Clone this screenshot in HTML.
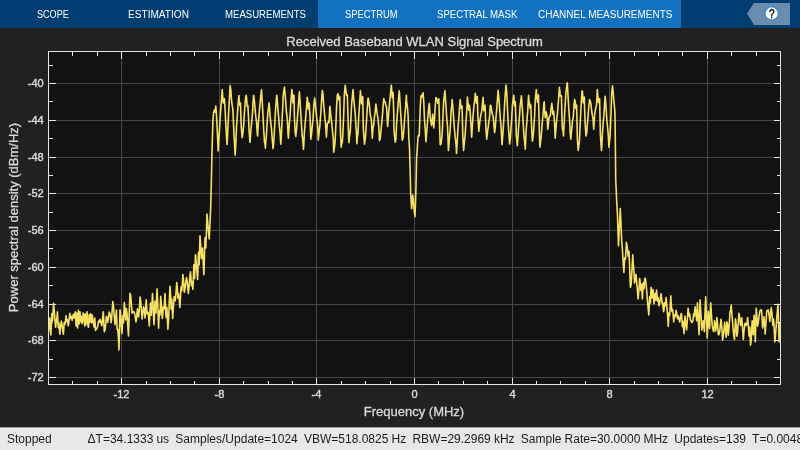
<!DOCTYPE html>
<html><head><meta charset="utf-8"><title>Spectrum Analyzer</title>
<style>
html,body{margin:0;padding:0;}
body{width:800px;height:450px;overflow:hidden;background:#212121;font-family:"Liberation Sans",Arial,sans-serif;position:relative;}
#hdr{will-change:transform;position:absolute;left:0;top:0;width:800px;height:28px;background:#003d70;}
#hdr .act{position:absolute;left:318px;top:0;width:363px;height:28px;background:#1271c0;}
#hdr .tab{position:absolute;top:0;height:28px;line-height:30.5px;color:#fff;font-size:10px;white-space:nowrap;transform-origin:0 50%;}
#help{position:absolute;left:747px;top:3px;width:43px;height:22px;}
#status{will-change:transform;position:absolute;left:0;top:427px;width:800px;height:23px;background:#e8e8e8;border-top:1px solid #9c9c9c;box-shadow:inset 0 1px 0 #f1f1f1;box-sizing:border-box;color:#1a1a1a;font-size:12px;line-height:23px;white-space:nowrap;overflow:hidden;}
#status span{position:absolute;top:0;}
svg text{font-family:"Liberation Sans",Arial,sans-serif;}
#plot text{stroke:#d9d9d9;stroke-width:0.3px;}
#plot .tl text{stroke-width:0.42px;}
</style></head><body>
<div id="hdr"><div class="act"></div>
<span class="tab" id="t1" style="left:37.0px;transform:scaleX(0.9069)">SCOPE</span>
<span class="tab" id="t2" style="left:128.2px;transform:scaleX(1.0103)">ESTIMATION</span>
<span class="tab" id="t3" style="left:224.5px;transform:scaleX(0.9591)">MEASUREMENTS</span>
<span class="tab" id="t4" style="left:344.5px;transform:scaleX(0.9356)">SPECTRUM</span>
<span class="tab" id="t5" style="left:437.3px;transform:scaleX(0.9611)">SPECTRAL MASK</span>
<span class="tab" id="t6" style="left:538.1px;transform:scaleX(0.9988)">CHANNEL MEASUREMENTS</span>
<svg id="help" viewBox="0 0 43 22"><polygon points="0,10.5 7,0 43,0 43,22 7,22" fill="#6a8cae"/><circle cx="24.6" cy="10.45" r="6.7" fill="#fff" stroke="#2a84dc" stroke-width="1.2"/><text transform="translate(24.8,15.2) scale(0.78,1)" text-anchor="middle" font-size="13" fill="#1a1a1a" stroke="#1a1a1a" stroke-width="0.5">?</text></svg>
</div>
<svg id="plot" width="800" height="399" viewBox="0 28 800 399" style="position:absolute;left:0;top:28px;will-change:transform">
<rect x="48.5" y="51.5" width="732.0" height="333.0" fill="#121212"/>
<g stroke="#474747" stroke-width="1" shape-rendering="crispEdges"><line x1="48.5" x2="780.5" y1="377.5" y2="377.5"/><line x1="48.5" x2="780.5" y1="340.5" y2="340.5"/><line x1="48.5" x2="780.5" y1="304.5" y2="304.5"/><line x1="48.5" x2="780.5" y1="267.5" y2="267.5"/><line x1="48.5" x2="780.5" y1="230.5" y2="230.5"/><line x1="48.5" x2="780.5" y1="193.5" y2="193.5"/><line x1="48.5" x2="780.5" y1="157.5" y2="157.5"/><line x1="48.5" x2="780.5" y1="120.5" y2="120.5"/><line x1="48.5" x2="780.5" y1="83.5" y2="83.5"/><line y1="51.5" y2="384.5" x1="121.5" x2="121.5"/><line y1="51.5" y2="384.5" x1="219.5" x2="219.5"/><line y1="51.5" y2="384.5" x1="316.5" x2="316.5"/><line y1="51.5" y2="384.5" x1="414.5" x2="414.5"/><line y1="51.5" y2="384.5" x1="512.5" x2="512.5"/><line y1="51.5" y2="384.5" x1="609.5" x2="609.5"/><line y1="51.5" y2="384.5" x1="707.5" x2="707.5"/></g>
<g stroke="#e6e6e6" stroke-width="1" shape-rendering="crispEdges"><line x1="48.5" x2="55.5" y1="377.5" y2="377.5"/><line x1="773.5" x2="780.5" y1="377.5" y2="377.5"/><line x1="48.5" x2="55.5" y1="340.5" y2="340.5"/><line x1="773.5" x2="780.5" y1="340.5" y2="340.5"/><line x1="48.5" x2="55.5" y1="304.5" y2="304.5"/><line x1="773.5" x2="780.5" y1="304.5" y2="304.5"/><line x1="48.5" x2="55.5" y1="267.5" y2="267.5"/><line x1="773.5" x2="780.5" y1="267.5" y2="267.5"/><line x1="48.5" x2="55.5" y1="230.5" y2="230.5"/><line x1="773.5" x2="780.5" y1="230.5" y2="230.5"/><line x1="48.5" x2="55.5" y1="193.5" y2="193.5"/><line x1="773.5" x2="780.5" y1="193.5" y2="193.5"/><line x1="48.5" x2="55.5" y1="157.5" y2="157.5"/><line x1="773.5" x2="780.5" y1="157.5" y2="157.5"/><line x1="48.5" x2="55.5" y1="120.5" y2="120.5"/><line x1="773.5" x2="780.5" y1="120.5" y2="120.5"/><line x1="48.5" x2="55.5" y1="83.5" y2="83.5"/><line x1="773.5" x2="780.5" y1="83.5" y2="83.5"/><line x1="48.5" x2="52.5" y1="359.5" y2="359.5"/><line x1="776.5" x2="780.5" y1="359.5" y2="359.5"/><line x1="48.5" x2="52.5" y1="322.5" y2="322.5"/><line x1="776.5" x2="780.5" y1="322.5" y2="322.5"/><line x1="48.5" x2="52.5" y1="285.5" y2="285.5"/><line x1="776.5" x2="780.5" y1="285.5" y2="285.5"/><line x1="48.5" x2="52.5" y1="248.5" y2="248.5"/><line x1="776.5" x2="780.5" y1="248.5" y2="248.5"/><line x1="48.5" x2="52.5" y1="212.5" y2="212.5"/><line x1="776.5" x2="780.5" y1="212.5" y2="212.5"/><line x1="48.5" x2="52.5" y1="175.5" y2="175.5"/><line x1="776.5" x2="780.5" y1="175.5" y2="175.5"/><line x1="48.5" x2="52.5" y1="138.5" y2="138.5"/><line x1="776.5" x2="780.5" y1="138.5" y2="138.5"/><line x1="48.5" x2="52.5" y1="101.5" y2="101.5"/><line x1="776.5" x2="780.5" y1="101.5" y2="101.5"/><line x1="48.5" x2="52.5" y1="65.5" y2="65.5"/><line x1="776.5" x2="780.5" y1="65.5" y2="65.5"/><line y1="384.5" y2="377.5" x1="121.5" x2="121.5"/><line y1="51.5" y2="58.5" x1="121.5" x2="121.5"/><line y1="384.5" y2="377.5" x1="219.5" x2="219.5"/><line y1="51.5" y2="58.5" x1="219.5" x2="219.5"/><line y1="384.5" y2="377.5" x1="316.5" x2="316.5"/><line y1="51.5" y2="58.5" x1="316.5" x2="316.5"/><line y1="384.5" y2="377.5" x1="414.5" x2="414.5"/><line y1="51.5" y2="58.5" x1="414.5" x2="414.5"/><line y1="384.5" y2="377.5" x1="512.5" x2="512.5"/><line y1="51.5" y2="58.5" x1="512.5" x2="512.5"/><line y1="384.5" y2="377.5" x1="609.5" x2="609.5"/><line y1="51.5" y2="58.5" x1="609.5" x2="609.5"/><line y1="384.5" y2="377.5" x1="707.5" x2="707.5"/><line y1="51.5" y2="58.5" x1="707.5" x2="707.5"/><line y1="384.5" y2="380.5" x1="72.5" x2="72.5"/><line y1="51.5" y2="55.5" x1="72.5" x2="72.5"/><line y1="384.5" y2="380.5" x1="97.5" x2="97.5"/><line y1="51.5" y2="55.5" x1="97.5" x2="97.5"/><line y1="384.5" y2="380.5" x1="146.5" x2="146.5"/><line y1="51.5" y2="55.5" x1="146.5" x2="146.5"/><line y1="384.5" y2="380.5" x1="170.5" x2="170.5"/><line y1="51.5" y2="55.5" x1="170.5" x2="170.5"/><line y1="384.5" y2="380.5" x1="194.5" x2="194.5"/><line y1="51.5" y2="55.5" x1="194.5" x2="194.5"/><line y1="384.5" y2="380.5" x1="243.5" x2="243.5"/><line y1="51.5" y2="55.5" x1="243.5" x2="243.5"/><line y1="384.5" y2="380.5" x1="268.5" x2="268.5"/><line y1="51.5" y2="55.5" x1="268.5" x2="268.5"/><line y1="384.5" y2="380.5" x1="292.5" x2="292.5"/><line y1="51.5" y2="55.5" x1="292.5" x2="292.5"/><line y1="384.5" y2="380.5" x1="341.5" x2="341.5"/><line y1="51.5" y2="55.5" x1="341.5" x2="341.5"/><line y1="384.5" y2="380.5" x1="365.5" x2="365.5"/><line y1="51.5" y2="55.5" x1="365.5" x2="365.5"/><line y1="384.5" y2="380.5" x1="390.5" x2="390.5"/><line y1="51.5" y2="55.5" x1="390.5" x2="390.5"/><line y1="384.5" y2="380.5" x1="438.5" x2="438.5"/><line y1="51.5" y2="55.5" x1="438.5" x2="438.5"/><line y1="384.5" y2="380.5" x1="463.5" x2="463.5"/><line y1="51.5" y2="55.5" x1="463.5" x2="463.5"/><line y1="384.5" y2="380.5" x1="487.5" x2="487.5"/><line y1="51.5" y2="55.5" x1="487.5" x2="487.5"/><line y1="384.5" y2="380.5" x1="536.5" x2="536.5"/><line y1="51.5" y2="55.5" x1="536.5" x2="536.5"/><line y1="384.5" y2="380.5" x1="560.5" x2="560.5"/><line y1="51.5" y2="55.5" x1="560.5" x2="560.5"/><line y1="384.5" y2="380.5" x1="585.5" x2="585.5"/><line y1="51.5" y2="55.5" x1="585.5" x2="585.5"/><line y1="384.5" y2="380.5" x1="634.5" x2="634.5"/><line y1="51.5" y2="55.5" x1="634.5" x2="634.5"/><line y1="384.5" y2="380.5" x1="658.5" x2="658.5"/><line y1="51.5" y2="55.5" x1="658.5" x2="658.5"/><line y1="384.5" y2="380.5" x1="682.5" x2="682.5"/><line y1="51.5" y2="55.5" x1="682.5" x2="682.5"/><line y1="384.5" y2="380.5" x1="731.5" x2="731.5"/><line y1="51.5" y2="55.5" x1="731.5" x2="731.5"/><line y1="384.5" y2="380.5" x1="756.5" x2="756.5"/><line y1="51.5" y2="55.5" x1="756.5" x2="756.5"/></g>
<clipPath id="cp"><rect x="48" y="52" width="732" height="332"/></clipPath>
<polyline clip-path="url(#cp)" fill="none" stroke="#f7e163" stroke-width="1.6" stroke-linejoin="round" stroke-linecap="round" points="48.0,338.5 48.5,331.4 49.2,324.2 49.7,318.0 50.6,330.9 50.9,335.0 51.4,323.3 51.8,313.5 52.6,320.7 53.5,303.2 54.2,310.4 54.9,318.5 55.6,327.3 56.4,321.2 57.1,316.0 57.4,311.8 57.8,319.9 58.3,327.8 58.9,322.8 59.2,326.4 59.8,334.3 60.7,326.5 61.3,321.0 62.1,324.9 62.8,330.6 63.4,334.3 64.2,322.5 64.9,324.6 65.7,319.5 66.0,315.7 66.4,318.8 66.8,321.3 67.1,321.6 67.5,319.7 67.8,322.3 68.3,325.8 69.2,319.2 69.9,313.3 70.7,318.4 71.4,316.6 72.1,320.4 72.8,316.7 73.3,314.3 74.2,318.0 74.9,313.7 75.3,311.8 75.7,319.0 76.1,326.0 76.4,320.3 76.9,313.0 77.6,328.0 78.4,310.2 79.2,324.0 80.0,311.9 80.7,321.8 81.4,316.3 82.1,323.7 82.8,320.1 83.1,313.0 83.5,313.6 83.9,315.0 84.2,320.3 84.7,326.0 85.0,320.9 85.3,314.0 85.7,325.0 86.4,319.8 87.0,311.8 87.8,325.0 88.5,327.3 89.2,314.5 90.0,322.2 90.7,313.9 91.4,319.1 91.7,323.0 92.1,318.8 92.4,315.0 92.8,319.6 93.2,321.0 93.5,323.2 94.0,327.0 94.2,324.7 94.8,318.0 95.5,330.4 96.4,329.1 97.1,327.9 97.8,326.1 98.5,321.0 99.3,322.4 100.0,319.4 100.7,321.2 101.4,324.5 101.8,325.8 102.1,323.8 102.8,316.9 103.3,311.8 104.3,331.6 105.0,329.9 105.7,324.4 106.4,316.4 107.1,317.8 107.8,322.3 108.5,317.0 109.3,312.1 110.0,314.1 110.7,318.3 111.1,322.7 111.4,321.1 112.1,311.7 112.8,301.5 113.6,307.3 114.3,316.2 115.0,324.7 115.7,317.8 116.4,310.1 117.1,329.3 117.8,329.4 118.6,340.3 118.9,349.9 119.3,337.7 120.0,309.8 120.7,315.6 121.4,326.1 122.0,333.5 122.8,315.9 123.5,322.6 124.3,302.6 125.0,310.5 125.7,320.0 126.4,308.6 127.1,314.0 127.8,326.0 128.5,335.9 129.3,311.2 130.0,293.3 130.7,295.7 131.4,304.6 132.1,313.3 132.9,311.9 133.6,311.5 134.3,312.6 135.0,315.1 135.7,319.9 136.0,321.9 136.4,319.6 137.1,311.8 137.5,308.7 137.9,313.3 138.6,317.0 139.3,309.7 140.0,297.0 140.7,300.7 141.4,309.7 142.1,319.0 142.9,312.1 143.6,306.8 144.3,310.0 145.0,318.0 145.7,307.6 146.2,299.7 147.1,314.0 147.9,313.7 148.2,312.4 148.6,316.9 149.3,326.0 150.0,312.3 150.5,303.1 150.7,307.6 151.3,315.2 152.2,299.8 152.5,293.5 152.9,299.9 153.6,317.4 154.0,324.6 154.3,319.2 155.0,301.4 155.7,308.4 156.0,312.9 156.4,301.9 157.1,288.8 157.9,308.4 158.6,328.1 159.3,311.1 160.0,314.9 160.7,296.4 161.4,305.5 162.2,318.5 162.9,313.3 163.3,306.8 163.6,307.7 164.1,309.0 165.0,293.5 165.7,310.8 166.1,317.5 166.4,313.6 166.9,307.4 167.9,329.1 168.6,319.7 169.3,301.4 170.0,286.3 170.7,296.1 171.1,309.1 171.5,303.2 171.8,299.1 172.2,308.1 172.7,318.4 173.6,304.1 174.2,296.6 175.0,300.5 175.3,300.8 175.7,296.4 176.5,285.9 176.8,282.6 177.2,287.4 177.9,297.9 178.6,293.5 179.3,299.5 179.9,307.5 180.7,292.7 181.0,287.1 181.5,290.8 181.9,290.7 182.2,286.0 182.9,274.6 183.6,281.0 184.3,292.3 185.0,288.9 185.8,281.9 186.5,277.6 187.2,281.7 187.9,289.5 188.3,293.5 188.6,291.6 189.3,283.6 190.0,275.6 190.5,271.7 190.8,275.7 191.4,285.7 192.1,281.7 192.9,289.3 193.6,272.0 193.9,264.7 194.3,273.1 194.6,278.5 195.0,266.8 195.5,254.5 195.8,257.1 196.5,267.3 197.2,274.7 197.6,279.4 197.9,270.8 198.5,252.3 199.2,264.9 200.0,235.7 200.8,247.4 201.5,258.4 202.2,252.5 202.5,248.0 202.9,255.6 203.6,270.2 203.9,274.8 204.3,261.0 205.0,237.7 205.8,248.0 206.5,230.1 207.0,214.0 207.9,224.1 208.6,232.8 209.2,239.0 210.1,221.0 210.8,204.2 211.5,175.5 211.8,160.0 212.2,144.8 212.9,121.0 213.6,112.0 214.3,110.2 214.8,112.0 215.1,110.7 215.8,106.1 216.5,115.7 217.0,125.0 217.9,143.9 218.2,151.0 218.6,142.6 219.3,133.3 220.0,120.0 220.8,109.1 221.5,99.6 222.2,89.5 222.9,98.6 223.3,103.0 223.6,101.5 224.4,98.8 225.1,109.2 225.6,120.0 226.5,136.6 227.1,144.4 227.9,127.8 228.6,113.0 229.4,99.2 230.1,85.6 230.8,89.7 231.5,100.0 232.2,105.4 232.9,110.0 233.6,126.0 234.0,135.0 234.4,141.0 235.1,155.2 235.8,144.6 236.5,126.8 237.0,120.0 237.9,107.2 238.6,98.0 238.9,95.5 239.4,102.7 240.1,105.7 240.5,103.1 240.8,113.2 241.2,125.8 241.5,129.6 242.2,137.7 242.9,133.2 243.4,127.5 243.7,124.8 244.4,113.3 245.0,104.7 245.8,96.7 246.2,95.2 246.5,97.6 247.2,106.4 247.9,105.5 248.7,120.5 249.0,130.0 249.4,134.6 250.0,142.5 250.8,131.0 251.5,124.2 252.2,116.3 252.7,110.6 252.9,104.1 253.6,95.2 254.4,100.9 255.1,109.6 255.8,116.5 256.5,121.3 257.2,132.5 257.6,135.9 257.9,129.6 258.7,118.9 259.4,110.8 260.1,103.7 260.8,95.3 261.5,89.8 262.2,101.1 263.0,115.8 263.7,130.3 264.1,134.9 264.4,141.3 265.1,144.7 265.4,148.2 265.8,141.0 266.3,137.0 267.2,121.6 267.9,112.2 268.7,106.7 269.0,102.9 269.4,106.0 270.1,115.9 270.8,123.3 271.5,128.7 272.1,136.9 273.0,148.7 273.7,143.1 273.9,139.0 274.4,130.9 275.1,117.2 275.6,109.0 276.5,97.6 276.8,95.2 277.2,99.3 278.0,110.7 278.7,117.8 279.4,126.4 280.1,133.1 280.8,144.2 281.5,132.4 282.3,114.8 283.0,102.5 283.2,95.8 283.7,91.7 284.4,87.1 285.1,94.2 285.8,103.0 286.5,112.7 287.3,119.2 288.0,133.3 288.4,138.2 288.7,132.7 289.2,125.9 290.1,114.8 290.8,103.0 291.5,93.8 291.9,89.6 292.3,94.8 293.0,102.9 293.7,95.4 294.0,95.4 294.4,116.0 295.1,131.5 295.8,136.3 296.6,128.4 296.9,124.9 297.3,119.0 298.0,110.2 298.5,103.9 299.4,91.7 300.1,102.5 300.8,113.6 301.6,126.3 302.2,135.7 303.0,142.4 303.4,149.3 303.7,146.4 304.4,132.3 305.1,124.0 305.8,115.7 306.1,112.2 306.6,106.8 307.3,97.4 308.0,103.5 308.3,108.8 308.7,109.1 309.2,103.1 310.1,117.6 310.8,139.3 311.6,133.6 312.1,127.9 313.0,119.0 313.7,107.4 314.4,100.2 314.7,98.0 315.1,102.4 315.9,109.6 316.6,117.4 317.3,123.2 317.8,127.9 318.3,140.0 318.7,136.2 319.4,129.6 319.8,126.6 320.1,121.8 320.9,112.0 321.4,103.1 322.3,90.5 323.0,94.7 323.7,104.7 324.4,112.6 325.1,120.0 325.5,123.0 325.9,129.2 326.4,137.1 327.3,123.7 328.0,122.8 328.7,121.1 329.1,122.5 329.4,114.6 329.8,106.3 330.1,108.2 330.9,116.7 331.6,121.8 332.3,129.0 333.0,136.3 333.3,138.4 333.7,152.2 334.4,147.6 335.1,141.6 335.9,124.5 336.6,106.1 337.3,95.1 338.0,93.7 338.7,99.7 339.4,96.3 339.8,96.7 340.2,116.8 340.5,134.4 340.9,140.2 341.2,147.1 341.6,143.7 342.3,142.3 342.7,137.1 343.0,129.9 343.7,114.9 344.3,95.0 345.2,85.2 345.9,90.5 346.5,95.4 347.3,94.7 348.0,117.2 348.4,131.4 348.7,137.8 349.0,142.6 349.4,137.5 350.2,131.7 350.9,119.3 351.6,105.2 352.0,99.6 352.3,97.4 353.0,89.6 353.7,98.9 354.5,106.5 355.2,114.0 355.9,125.7 356.3,130.0 356.6,137.3 356.9,143.7 357.3,137.4 358.0,133.0 358.7,117.0 359.5,105.4 360.2,94.7 360.4,90.7 360.9,96.0 361.6,103.6 362.3,100.8 362.7,96.5 363.0,111.3 363.3,128.3 363.7,133.8 364.5,144.1 365.2,139.1 365.6,134.7 365.9,130.6 366.6,119.2 367.3,107.7 368.0,98.3 368.4,98.5 368.8,101.6 369.5,106.0 370.2,114.2 370.9,117.7 371.5,121.3 372.3,138.2 373.0,128.3 373.8,123.8 374.5,116.2 374.9,114.4 375.2,111.4 375.9,104.0 376.6,109.5 377.3,114.4 378.0,118.5 378.8,126.8 379.5,140.7 380.2,138.6 380.9,131.9 381.6,124.4 382.3,117.2 383.0,107.6 383.8,98.6 384.5,101.8 385.2,101.9 385.9,105.7 386.6,107.2 387.3,120.3 387.6,126.5 388.1,120.2 388.5,114.7 389.5,103.7 390.2,97.0 390.9,89.0 391.3,85.2 391.6,88.2 392.3,97.6 393.1,92.5 393.8,114.6 394.0,130.4 394.5,135.8 395.2,142.1 395.9,139.2 396.2,132.3 396.6,124.1 397.3,114.1 397.8,107.6 398.8,96.3 399.2,90.7 399.5,93.6 400.2,105.8 400.9,116.5 401.6,127.4 402.3,140.3 403.1,137.7 403.8,130.4 404.5,120.3 405.2,111.1 405.5,109.2 405.9,102.3 406.4,95.2 406.6,101.6 407.4,107.0 408.1,115.4 408.8,138.0 409.5,148.1 410.2,172.7 410.7,193.0 411.6,208.8 412.4,199.5 412.7,195.0 413.1,198.5 413.6,205.0 414.5,212.8 415.0,216.7 415.9,190.4 416.6,158.0 417.4,146.3 418.1,136.4 418.8,134.8 419.2,136.0 419.5,127.7 420.2,108.0 420.9,96.4 421.6,95.1 422.2,97.0 423.1,92.7 423.8,103.0 424.5,119.6 425.2,129.0 425.9,141.8 426.7,132.4 427.4,123.2 428.1,114.8 428.8,106.6 429.3,103.3 430.2,116.7 430.9,121.1 431.6,125.5 432.4,118.9 432.7,114.4 433.1,119.4 433.8,128.0 434.5,118.9 435.0,110.0 435.9,97.5 436.7,98.7 437.0,101.0 437.4,100.5 437.8,103.3 438.1,101.9 438.8,98.7 439.5,122.7 440.2,144.8 440.9,144.4 441.7,138.3 442.0,135.3 442.4,129.6 443.1,112.7 443.7,100.9 444.5,94.2 445.0,90.7 445.2,95.0 446.0,106.5 446.7,117.7 447.4,124.8 447.9,135.2 448.4,150.5 448.8,146.1 449.5,137.3 450.2,129.2 451.0,114.2 451.3,108.6 451.7,106.9 452.1,99.5 453.1,110.0 453.8,120.6 454.5,129.7 455.2,137.4 456.0,143.5 456.5,153.5 457.3,140.0 458.1,126.5 458.8,119.1 459.5,108.0 460.2,99.6 461.0,108.3 461.7,107.0 462.0,106.0 462.4,119.2 462.8,135.8 463.1,141.5 463.6,150.5 464.5,140.7 464.9,137.1 465.3,132.5 466.0,120.8 466.6,113.7 467.4,97.0 468.1,104.1 468.8,110.1 469.5,105.4 470.3,114.3 470.8,122.5 471.7,137.2 472.4,125.1 473.1,115.9 473.8,107.3 474.2,103.9 474.5,102.0 475.3,93.3 476.0,98.5 476.4,103.3 476.7,99.7 477.3,96.6 477.9,116.1 478.8,131.5 479.6,124.1 480.2,118.7 481.0,114.1 481.7,111.7 482.4,104.2 483.1,97.4 483.8,110.8 484.6,109.7 485.0,105.2 485.3,111.0 486.0,129.0 486.7,139.1 487.4,133.4 487.9,128.5 488.1,128.1 488.8,121.9 489.5,118.1 490.3,105.2 491.0,105.8 491.7,111.3 492.4,114.6 493.1,116.0 493.5,119.8 493.8,123.5 494.6,132.7 495.3,127.3 496.0,117.0 496.7,109.7 497.1,103.7 497.4,100.6 498.1,90.4 498.9,98.6 499.6,108.2 500.3,118.4 501.0,126.0 501.3,131.2 501.7,138.9 502.1,144.8 502.4,139.3 503.1,131.0 503.9,117.8 504.6,104.2 505.3,93.5 506.0,85.1 506.7,91.8 507.4,107.1 508.1,122.2 508.9,133.8 509.6,143.9 510.3,138.9 510.8,131.8 511.7,118.6 512.4,105.3 513.1,100.2 513.8,95.2 514.6,106.0 515.3,101.9 516.0,122.9 516.3,135.3 516.7,138.5 517.4,145.8 518.2,133.7 518.4,129.6 518.9,123.6 519.6,114.6 520.1,106.0 521.0,99.5 521.4,95.8 521.7,100.0 522.4,109.6 523.2,122.4 523.9,134.4 524.2,138.2 524.6,141.3 525.3,149.3 526.0,132.2 526.7,123.9 527.4,114.5 527.7,111.8 528.2,101.9 528.6,95.2 528.9,100.4 529.6,103.6 529.9,108.1 530.3,107.9 530.8,105.1 531.7,128.6 532.4,141.1 533.2,135.6 533.7,129.6 534.6,115.9 535.3,99.7 536.0,92.9 536.3,89.6 536.7,95.6 537.5,102.1 538.2,98.3 538.4,94.7 538.9,112.2 539.4,133.6 539.9,147.1 540.3,143.7 541.0,138.6 541.3,134.4 541.7,130.1 542.5,119.7 543.0,114.9 543.9,103.6 544.2,101.8 544.6,109.5 545.2,117.7 546.0,111.8 546.7,114.4 547.3,118.5 547.7,129.3 548.2,125.6 548.9,118.2 549.6,116.3 550.3,115.8 550.6,113.0 551.0,109.0 551.8,103.4 552.5,109.0 552.8,114.3 553.2,111.1 553.7,111.4 554.6,123.8 555.2,138.2 556.0,127.9 556.6,120.8 557.5,112.6 558.2,103.7 558.9,95.1 559.4,87.4 560.3,95.9 561.0,95.8 561.4,95.8 561.8,109.9 562.2,125.3 562.5,129.4 563.2,131.2 563.5,135.9 563.9,127.7 564.3,120.8 564.6,113.8 565.3,103.0 565.9,92.6 566.8,85.9 567.2,82.9 567.5,85.7 568.2,98.9 568.9,110.1 569.6,120.2 570.3,133.9 570.8,139.3 571.1,135.5 571.8,128.9 572.5,120.5 573.2,117.8 573.5,113.8 573.9,106.7 574.6,99.4 575.3,101.9 575.7,108.2 576.1,108.7 576.6,105.0 577.4,139.5 578.2,150.4 578.9,145.2 579.5,140.0 580.3,120.9 581.1,105.3 581.8,94.3 582.1,90.7 582.5,91.7 583.2,102.8 583.9,100.9 584.3,97.1 584.6,108.2 585.2,124.5 586.0,135.9 586.8,132.2 587.2,125.8 587.5,123.1 588.2,114.1 588.8,106.5 589.6,99.6 590.4,101.5 591.1,105.3 591.8,112.0 592.5,116.0 592.9,117.8 593.2,120.4 593.7,129.3 594.6,115.2 595.4,109.8 596.1,107.1 596.5,105.2 596.8,99.8 597.3,89.6 598.2,100.3 598.7,102.6 598.9,100.7 599.6,98.8 600.4,135.1 601.1,145.8 601.5,150.4 601.8,146.1 602.5,132.5 603.2,122.4 603.9,115.4 604.6,103.8 605.1,96.3 605.4,98.4 606.1,108.1 606.8,119.5 607.5,126.6 608.2,133.9 608.9,147.1 609.7,139.6 610.1,136.7 610.4,128.8 611.1,111.0 611.7,93.7 612.5,85.8 613.2,92.9 613.8,100.0 614.7,109.4 615.0,114.0 615.4,148.9 615.7,180.0 616.1,187.4 616.8,203.3 617.5,215.6 618.2,237.4 618.5,245.8 618.9,237.1 619.7,221.8 620.3,208.5 621.1,227.2 621.7,240.5 622.5,251.2 623.2,263.1 623.9,272.5 624.7,258.1 625.4,259.4 626.1,248.8 626.4,242.3 626.8,244.9 627.5,249.8 628.1,256.5 629.0,251.2 629.7,269.2 630.4,287.3 631.1,284.8 631.8,273.1 632.5,259.3 632.8,254.7 633.2,263.0 634.0,272.6 634.5,283.0 635.4,278.2 636.0,274.3 636.8,283.5 637.5,291.3 638.1,299.0 639.0,289.1 639.7,278.5 640.4,284.2 640.8,290.2 641.1,287.0 641.5,284.3 641.8,289.8 642.4,299.0 643.2,282.7 644.0,288.6 644.7,278.2 645.4,278.4 646.1,284.5 646.8,292.0 647.5,301.2 648.3,310.0 648.8,315.0 649.7,296.5 650.4,303.0 651.1,287.4 651.8,289.4 652.3,297.9 653.1,289.7 654.0,303.7 654.7,298.2 655.0,293.7 655.4,297.9 655.7,300.1 656.1,293.1 656.6,290.0 657.5,301.2 658.2,297.5 659.0,305.7 659.7,302.7 660.4,298.3 661.1,293.7 661.8,299.9 662.1,303.8 662.6,302.3 663.3,309.8 663.7,311.7 664.0,309.1 664.6,302.8 665.3,305.8 666.1,297.5 666.8,305.6 667.6,315.1 668.3,326.4 669.0,313.0 669.7,315.3 670.4,303.6 670.8,295.7 671.1,301.4 671.8,311.1 672.6,309.5 673.3,316.4 673.7,322.0 674.0,318.9 674.6,314.9 675.3,316.6 676.1,310.4 676.8,313.7 677.5,318.8 678.3,316.0 679.0,318.8 679.7,322.0 680.4,318.0 681.1,313.9 681.5,313.5 681.9,319.0 682.4,326.7 683.1,321.4 684.0,333.7 684.7,322.0 685.0,316.0 685.4,320.1 686.1,326.2 686.6,330.0 686.9,326.7 687.6,315.7 688.1,308.3 688.9,316.0 689.6,313.6 690.4,320.0 691.1,321.1 691.9,322.5 692.6,321.9 693.3,317.5 693.6,314.1 694.0,315.9 694.3,316.2 694.7,311.0 695.1,306.8 695.4,309.8 696.1,314.8 696.7,320.8 697.4,302.9 698.3,320.5 699.0,334.8 699.7,310.8 700.1,299.8 700.4,306.6 701.2,318.6 701.8,330.0 702.6,325.8 703.3,320.6 704.0,327.4 704.4,331.7 704.7,321.3 705.4,303.6 705.7,296.7 706.2,309.8 706.9,327.8 707.2,337.9 707.6,329.4 708.3,311.4 709.0,321.7 709.6,328.5 710.4,308.2 710.7,302.9 711.2,310.7 711.9,321.4 712.2,325.4 712.6,328.0 713.3,330.8 713.8,331.7 714.5,320.8 715.4,326.5 715.8,330.9 716.2,326.4 716.9,317.6 717.6,324.6 718.3,334.6 719.0,334.5 719.7,331.6 720.5,323.8 721.1,319.2 721.9,328.3 722.6,340.2 723.3,335.3 724.0,329.7 724.7,322.3 725.5,331.1 726.2,337.3 726.9,321.8 727.6,324.7 728.3,335.1 729.0,328.4 729.7,317.0 730.1,311.4 730.5,312.1 731.2,305.0 731.9,314.3 732.6,322.0 732.9,327.0 733.3,331.5 734.0,337.0 734.5,339.4 734.8,333.1 735.5,318.7 736.2,325.4 736.9,336.3 737.6,331.8 738.3,322.2 739.0,313.4 739.8,318.6 740.5,325.5 741.2,323.0 741.8,317.7 742.6,329.3 743.3,339.4 744.0,331.1 744.8,323.8 745.5,323.2 746.2,325.5 746.9,323.9 747.6,317.6 748.3,325.5 749.0,335.9 749.8,327.0 750.5,345.1 751.2,340.1 751.9,325.7 752.2,320.8 752.6,326.0 753.3,334.8 754.1,315.4 754.8,326.0 755.3,341.8 756.2,308.3 756.9,317.1 757.6,326.1 758.3,322.2 759.1,316.0 759.8,311.4 760.5,310.1 761.2,310.4 761.5,309.9 761.9,315.9 762.6,327.9 763.3,325.1 764.0,316.9 764.8,326.0 765.1,334.0 765.5,328.8 766.2,319.5 766.6,313.0 766.9,310.9 767.6,310.2 768.2,309.9 769.1,314.8 769.8,321.3 770.5,314.1 771.2,307.6 771.9,312.3 772.6,323.1 772.9,325.4 773.4,318.8 774.1,326.2 774.8,341.9 775.5,334.6 776.2,326.4 776.9,316.3 777.6,308.8 778.0,304.4 778.4,316.2 779.1,342.0 779.8,323.8 780.5,327.6 780.8,330.0"/>
<rect x="48.5" y="51.5" width="732.0" height="333.0" fill="none" stroke="#e6e6e6" stroke-width="1" shape-rendering="crispEdges"/>
<g class="tl" fill="#d9d9d9" font-size="11px"><text x="43.7" y="380.9" text-anchor="end">-72</text><text x="43.7" y="343.9" text-anchor="end">-68</text><text x="43.7" y="307.9" text-anchor="end">-64</text><text x="43.7" y="270.9" text-anchor="end">-60</text><text x="43.7" y="233.9" text-anchor="end">-56</text><text x="43.7" y="196.9" text-anchor="end">-52</text><text x="43.7" y="160.9" text-anchor="end">-48</text><text x="43.7" y="123.9" text-anchor="end">-44</text><text x="43.7" y="86.9" text-anchor="end">-40</text><text x="121.5" y="398.3" text-anchor="middle">-12</text><text x="219.5" y="398.3" text-anchor="middle">-8</text><text x="316.5" y="398.3" text-anchor="middle">-4</text><text x="414.5" y="398.3" text-anchor="middle">0</text><text x="512.5" y="398.3" text-anchor="middle">4</text><text x="609.5" y="398.3" text-anchor="middle">8</text><text x="707.5" y="398.3" text-anchor="middle">12</text></g>
<text id="title" x="414.6" y="45.6" text-anchor="middle" fill="#dedede" font-size="13px">Received Baseband WLAN Signal Spectrum</text>
<text id="xlab" x="414" y="416" text-anchor="middle" fill="#d9d9d9" font-size="13px">Frequency (MHz)</text>
<text id="ylab" transform="translate(18,217.5) rotate(-90)" text-anchor="middle" fill="#d9d9d9" font-size="13px">Power spectral density (dBm/Hz)</text>
</svg>
<div id="status"><span id="s1" style="left:7px">Stopped</span><span id="s2" style="left:87.6px;word-spacing:-0.22px">&#916;T=34.1333 us&nbsp; Samples/Update=1024&nbsp; VBW=518.0825 Hz&nbsp; RBW=29.2969 kHz&nbsp; Sample Rate=30.0000 MHz&nbsp; Updates=139&nbsp; T=0.0048</span></div>
</body></html>
